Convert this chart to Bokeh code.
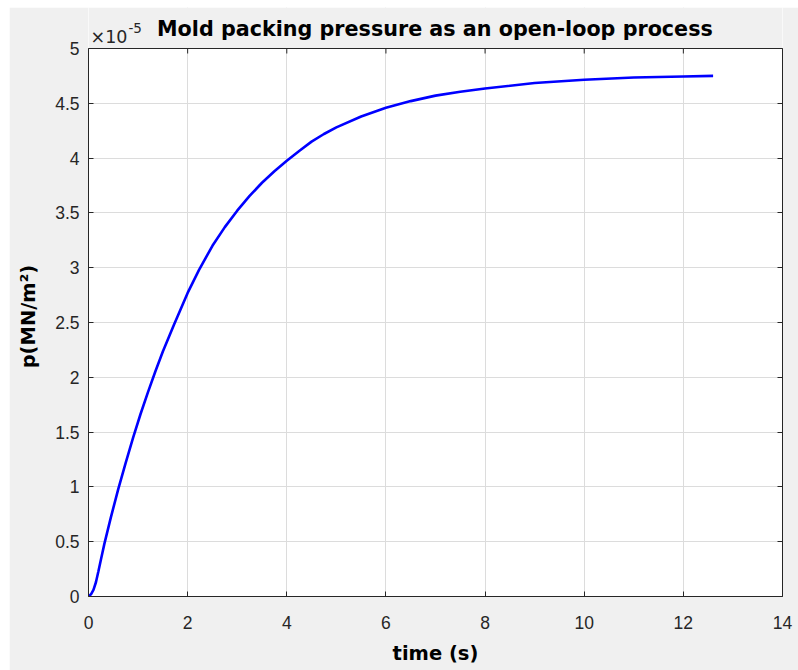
import math
from bokeh.plotting import figure
from bokeh.models import Range1d, FixedTicker, LinearAxis, Span
from bokeh.core.properties import value
from bokeh.embed import file_html
from bokeh.resources import INLINE

# ---- data (pressure in units of 1e-5 MN/m^2) ----
t_s = [0, 0.05, 0.1, 0.15, 0.2, 0.25, 0.32, 0.45, 0.6, 0.75, 0.9, 1.05, 1.2,
       1.35, 1.5, 1.72, 2.0, 2.23, 2.5, 2.75, 3.0, 3.25, 3.5, 3.75, 4.0, 4.25,
       4.5, 4.75, 5.0, 5.5, 6.0, 6.5, 7.0, 7.5, 8.0, 9.0, 10.0, 11.0, 12.0, 12.6]
p_e5 = [0, 0.02, 0.06, 0.13, 0.23, 0.335, 0.48, 0.72, 0.98, 1.22, 1.45, 1.665,
        1.865, 2.055, 2.235, 2.475, 2.77, 2.98, 3.2, 3.37, 3.52, 3.655, 3.775,
        3.88, 3.975, 4.065, 4.15, 4.22, 4.28, 4.38, 4.46, 4.52, 4.57, 4.605,
        4.635, 4.685, 4.715, 4.735, 4.745, 4.75]

x_ticks = [0, 2, 4, 6, 8, 10, 12, 14]
x_tick_labels = ["0", "2", "4", "6", "8", "10", "12", "14"]
y_ticks = [0, 0.5, 1, 1.5, 2, 2.5, 3, 3.5, 4, 4.5, 5]
y_tick_labels = ["0", "0.5", "1", "1.5", "2", "2.5", "3", "3.5", "4", "4.5", "5"]

title_text = "Mold packing pressure  as an open-loop process"
x_label = "time (s)"
y_label = "p(MN/m\u00b2)"
exp_base = "\u00d710"
exp_power = "-5"

FONT = "Liberation Sans"
BFONT = "DejaVu Sans"
AX = "#262626"
GRID = "#dcdcdc"
BG = "#f0f0f0"

# layout constants (pixels)
FIG_W, FIG_H = 789, 663
B_LEFT, B_RIGHT, B_BOTTOM = 79, 16, 74
BOX_H = 548                     # height of the axes box inside the frame
FRAME_H = FIG_H - B_BOTTOM      # frame also holds the title strip
x0, x1 = x_ticks[0], x_ticks[-1]
y0, y1 = y_ticks[0], y_ticks[-1]
y_frame_top = y0 + (y1 - y0) * FRAME_H / BOX_H

p = figure(width=FIG_W, height=FIG_H, output_backend="svg", toolbar_location=None,
           x_range=Range1d(x0, x1), y_range=Range1d(y0, y_frame_top),
           min_border_left=B_LEFT, min_border_right=B_RIGHT, min_border_top=0,
           min_border_bottom=B_BOTTOM, margin=(7, 0, 0, 9))
p.title_location = None
p.border_fill_color = BG
p.background_fill_color = "white"
p.outline_line_color = None

# grey strip above the axes box (hides grid above the box)
p.quad(left=[x0], right=[x1], bottom=[y1], top=[y_frame_top],
       fill_color=BG, line_color=None)

p.line(t_s, p_e5, line_color="#0000ff", line_width=2.6)

# main axes
for ax, ticks, labels in ((p.xaxis[0], x_ticks, x_tick_labels),
                          (p.yaxis[0], y_ticks, y_tick_labels)):
    ax.ticker = FixedTicker(ticks=ticks)
    ax.major_label_overrides = {t: l for t, l in zip(ticks, labels)}
    ax.minor_tick_line_color = None
    ax.major_tick_in = 5
    ax.major_tick_out = 0
    ax.axis_line_color = AX
    ax.major_tick_line_color = AX
    ax.major_label_text_font = FONT
    ax.major_label_text_font_size = "17.5px"
    ax.major_label_text_color = AX
    ax.axis_label_text_font = BFONT
    ax.axis_label_text_font_size = "19.5px"
    ax.axis_label_text_font_style = "bold"
    ax.axis_label_text_color = "#000000"

p.yaxis[0].bounds = (y0, y1)
p.xaxis[0].axis_label = x_label
# trailing em/en spaces centre the visible label on the axes box, not the frame
p.yaxis[0].axis_label = y_label + "\u2003\u2002"
p.xaxis[0].major_label_standoff = 19
p.yaxis[0].major_label_standoff = 9
p.xaxis[0].axis_label_standoff = 10
p.yaxis[0].axis_label_standoff = 12

# right side of the box, ticks inward, no labels
ra = LinearAxis(ticker=FixedTicker(ticks=y_ticks), bounds=(y0, y1))
ra.major_label_text_color = None
ra.major_label_text_font_size = "1px"
ra.major_label_standoff = 0
ra.minor_tick_line_color = None
ra.major_tick_in = 5
ra.major_tick_out = 0
ra.axis_line_color = AX
ra.major_tick_line_color = AX
p.add_layout(ra, "right")

# top side of the box with inward ticks
p.add_layout(Span(location=y1, dimension="width", line_color=AX, line_width=1))
p.ray(x=x_ticks, y=[y1] * len(x_ticks), length=5, length_units="screen",
      angle=-math.pi / 2, line_color=AX, line_width=1)

p.xgrid.ticker = FixedTicker(ticks=x_ticks)
p.ygrid.ticker = FixedTicker(ticks=y_ticks)
p.grid.grid_line_color = GRID
p.grid.grid_line_width = 1

# title and exponent, placed relative to the top edge of the box
p.text(x=[(x0 + x1) / 2], y=[y1], text=[title_text], x_offset=3, y_offset=-20,
       text_align="center", text_baseline="alphabetic",
       text_font=value(BFONT), text_font_size=value("20.7px"),
       text_font_style="bold", text_color="#000000")
p.text(x=[x0], y=[y1], text=[exp_base], x_offset=2, y_offset=-12,
       text_align="left", text_baseline="alphabetic",
       text_font=value(BFONT), text_font_size=value("17.5px"), text_color=AX)
p.text(x=[x0], y=[y1], text=[exp_power], x_offset=40, y_offset=-21,
       text_align="left", text_baseline="alphabetic",
       text_font=value(BFONT), text_font_size=value("13.5px"), text_color=AX)

open("out.html", "w").write(file_html(p, INLINE))
